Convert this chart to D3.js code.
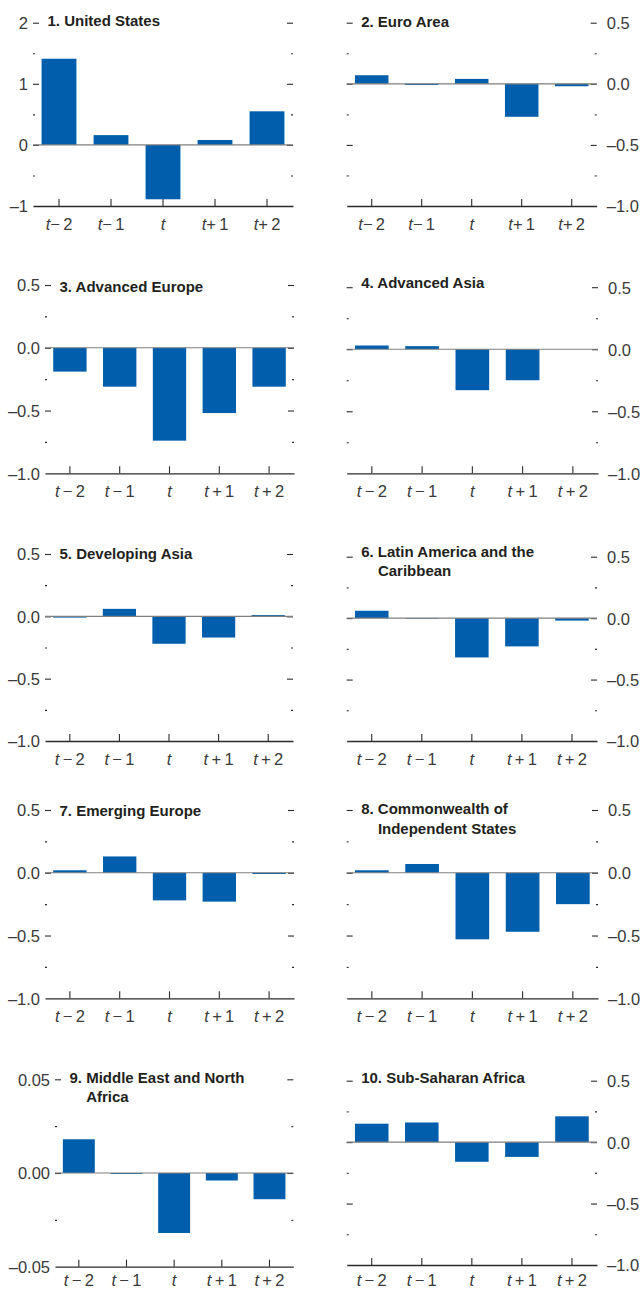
<!DOCTYPE html>
<html>
<head>
<meta charset="utf-8">
<script src="https://cdn.jsdelivr.net/npm/d3@7/dist/d3.min.js"></script>
<style>
  html, body { margin: 0; padding: 0; background: #fff; }
  svg { display: block; }
  text { font-family: "Liberation Sans", Arial, sans-serif; }
</style>
</head>
<body>
<svg id="chart" width="641" height="1291"></svg>
<script>
// Periods around the event (t) and the response of each region
const periods = ["t-2", "t-1", "t", "t+1", "t+2"];
const periodSuffixTight = ["\u2212\u20092", "\u2212\u20091", "", "+\u20091", "+\u20092"];
const periodSuffixWide = ["\u2009\u2212\u20092", "\u2009\u2212\u20091", "", "\u2009+\u20091", "\u2009+\u20092"];

const unitedStates   = [1.41, 0.16, -0.89, 0.08, 0.55];
const euroArea       = [0.07, -0.01, 0.04, -0.27, -0.02];
const advancedEurope = [-0.19, -0.31, -0.74, -0.52, -0.31];
const advancedAsia   = [0.03, 0.025, -0.33, -0.25, 0.0];
const developingAsia = [-0.01, 0.06, -0.22, -0.17, 0.01];
const latinAmerica   = [0.06, -0.005, -0.32, -0.23, -0.02];
const emergingEurope = [0.02, 0.13, -0.22, -0.23, -0.01];
const cisRegion      = [0.02, 0.07, -0.53, -0.47, -0.25];
const middleEast     = [0.018, -0.0005, -0.032, -0.004, -0.014];
const subSaharan     = [0.15, 0.16, -0.16, -0.12, 0.21];

// Axis tick values and labels
const usMajor = [-1, 0, 1, 2];
const usMinor = [-0.5, 0.5, 1.5];
const usLabels = ["\u20131", "0", "1", "2"];
const stdMajor = [-1, -0.5, 0, 0.5];
const stdMinor = [-0.75, -0.25, 0.25];
const stdLabels = ["\u20131.0", "\u20130.5", "0.0", "0.5"];
const menaMajor = [-0.05, 0, 0.05];
const menaMinor = [-0.025, 0.025];
const menaLabels = ["\u20130.05", "0.00", "0.05"];

const titles = [
  ["1. United States"],
  ["2. Euro Area"],
  ["3. Advanced Europe"],
  ["4. Advanced Asia"],
  ["5. Developing Asia"],
  ["6. Latin America and the", "Caribbean"],
  ["7. Emerging Europe"],
  ["8. Commonwealth of", "Independent States"],
  ["9. Middle East and North", "Africa"],
  ["10. Sub-Saharan Africa"]
];

// Panel definitions: data + scale setup
const panels = [
  { values: unitedStates,   major: usMajor,   minor: usMinor,   labels: usLabels,   suffix: periodSuffixTight },
  { values: euroArea,       major: stdMajor,  minor: stdMinor,  labels: stdLabels,  suffix: periodSuffixTight },
  { values: advancedEurope, major: stdMajor,  minor: stdMinor,  labels: stdLabels,  suffix: periodSuffixWide },
  { values: advancedAsia,   major: stdMajor,  minor: stdMinor,  labels: stdLabels,  suffix: periodSuffixWide },
  { values: developingAsia, major: stdMajor,  minor: stdMinor,  labels: stdLabels,  suffix: periodSuffixWide },
  { values: latinAmerica,   major: stdMajor,  minor: stdMinor,  labels: stdLabels,  suffix: periodSuffixWide },
  { values: emergingEurope, major: stdMajor,  minor: stdMinor,  labels: stdLabels,  suffix: periodSuffixWide },
  { values: cisRegion,      major: stdMajor,  minor: stdMinor,  labels: stdLabels,  suffix: periodSuffixWide },
  { values: middleEast,     major: menaMajor, minor: menaMinor, labels: menaLabels, suffix: periodSuffixWide },
  { values: subSaharan,     major: stdMajor,  minor: stdMinor,  labels: stdLabels,  suffix: periodSuffixWide }
];

// Frame of each panel on the page
const frames = [
  { top: 22.7,   bottom: 206,    left: 33,    right: 293,   side: "left",  titleDy: 3.5, labelDy: 24 },
  { top: 22.7,   bottom: 206,    left: 346.7, right: 596.7, side: "right", titleDy: 4,   labelDy: 24 },
  { top: 285,    bottom: 473.3,  left: 45,    right: 294,   side: "left",  titleDy: 6.5, labelDy: 24 },
  { top: 287.2,  bottom: 473.3,  left: 346.7, right: 598,   side: "right", titleDy: 1,   labelDy: 24 },
  { top: 554,    bottom: 741,    left: 45,    right: 293,   side: "left",  titleDy: 5.3, labelDy: 24 },
  { top: 556.7,  bottom: 741,    left: 346.7, right: 597,   side: "right", titleDy: 0,   labelDy: 24 },
  { top: 810,    bottom: 998.3,  left: 45,    right: 294,   side: "left",  titleDy: 5.7, labelDy: 24 },
  { top: 810,    bottom: 998.3,  left: 346.7, right: 598,   side: "right", titleDy: 4,   labelDy: 24 },
  { top: 1079.3, bottom: 1266.7, left: 55,    right: 293.3, side: "left",  titleDy: 3.4, labelDy: 19.5 },
  { top: 1080.7, bottom: 1265,   left: 346.7, right: 597,   side: "right", titleDy: 2,   labelDy: 21 }
];

const barColor = "#005EAC";
const axisColor = "#2b2b2b";
const zeroColor = "#7f7f7f";
const labelColor = "#3a3a3a";
const titleColor = "#231f20";
const titleSize = 15;
const labelSize = 16.5;

const svg = d3.select("#chart");
svg.append("rect").attr("width", 641).attr("height", 1291).attr("fill", "#fff");

panels.forEach((p, i) => {
  const f = frames[i];
  const g = svg.append("g");
  const dom = [d3.min(p.major), d3.max(p.major)];
  const y = d3.scaleLinear().domain(dom).range([f.bottom, f.top]);
  const x = d3.scaleBand().domain(periods).range([f.left, f.right])
    .paddingInner(0.33).paddingOuter(0.165);

  // inward major and minor ticks on both sides
  const tickSets = [
    { vals: p.major.filter(v => v !== dom[0]), size: 6 },
    { vals: p.minor, size: 2 }
  ];
  tickSets.forEach(ts => {
    g.append("g").attr("transform", `translate(${f.left},0)`)
      .call(d3.axisRight(y).tickValues(ts.vals).tickSize(ts.size).tickFormat(""))
      .call(a => a.select(".domain").remove());
    g.append("g").attr("transform", `translate(${f.right},0)`)
      .call(d3.axisLeft(y).tickValues(ts.vals).tickSize(ts.size).tickFormat(""))
      .call(a => a.select(".domain").remove());
  });

  // value labels on the outer side
  const fmt = v => p.labels[p.major.indexOf(v)];
  const labelAxis = f.side === "left"
    ? d3.axisLeft(y).tickPadding(5)
    : d3.axisRight(y).tickPadding(10);
  g.append("g")
    .attr("transform", `translate(${f.side === "left" ? f.left : f.right},0)`)
    .call(labelAxis.tickValues(p.major).tickSize(0).tickFormat(fmt))
    .call(a => a.select(".domain").remove())
    .call(a => a.selectAll("text")
      .attr("fill", labelColor)
      .style("font-size", labelSize + "px")
      .style("font-family", '"Liberation Sans", Arial, sans-serif')
      .attr("dy", "0.36em"));

  g.selectAll(".tick line").attr("stroke", axisColor).attr("stroke-width", 1.1);

  // bars
  g.append("g").selectAll("rect")
    .data(p.values)
    .join("rect")
    .attr("x", (d, j) => x(periods[j]))
    .attr("width", x.bandwidth())
    .attr("y", d => Math.min(y(d), y(0)))
    .attr("height", d => Math.abs(y(d) - y(0)))
    .attr("fill", barColor);

  // zero line
  g.append("line")
    .attr("x1", f.left).attr("x2", f.right)
    .attr("y1", y(0)).attr("y2", y(0))
    .attr("stroke", zeroColor).attr("stroke-width", 1.2);

  // bottom axis with upward ticks
  g.append("g").attr("transform", `translate(0,${f.bottom})`)
    .call(d3.axisTop(x).tickSize(7).tickSizeOuter(0).tickFormat(""))
    .call(a => a.select(".domain").attr("stroke", axisColor).attr("stroke-width", 1.3))
    .call(a => a.selectAll(".tick line").attr("stroke", axisColor).attr("stroke-width", 1.1));

  // period labels
  const lbl = g.append("g").selectAll("text")
    .data(periods)
    .join("text")
    .attr("x", d => x(d) + x.bandwidth() / 2)
    .attr("y", f.bottom + f.labelDy)
    .attr("text-anchor", "middle")
    .attr("fill", labelColor)
    .style("font-size", labelSize + "px");
  lbl.append("tspan").style("font-style", "italic").text("t");
  lbl.append("tspan").text((d, j) => p.suffix[j]);

  // title
  const lines = titles[i];
  const tx = f.left + 14.5;
  const title = g.append("text")
    .attr("x", tx).attr("y", f.top + f.titleDy)
    .attr("fill", titleColor)
    .style("font-size", titleSize + "px")
    .style("font-weight", "bold");
  title.append("tspan").attr("x", tx).text(lines[0]);
  if (lines.length > 1) {
    const prefix = lines[0].slice(0, lines[0].indexOf(" ") + 1);
    const probe = g.append("text").style("font-size", titleSize + "px").style("font-weight", "bold")
      .text(prefix.replace(" ", "\u00a0"));
    const indent = probe.node().getComputedTextLength();
    probe.remove();
    title.append("tspan").attr("x", tx + indent).attr("dy", 19.5).text(lines[1]);
  }
});
</script>
</body>
</html>
